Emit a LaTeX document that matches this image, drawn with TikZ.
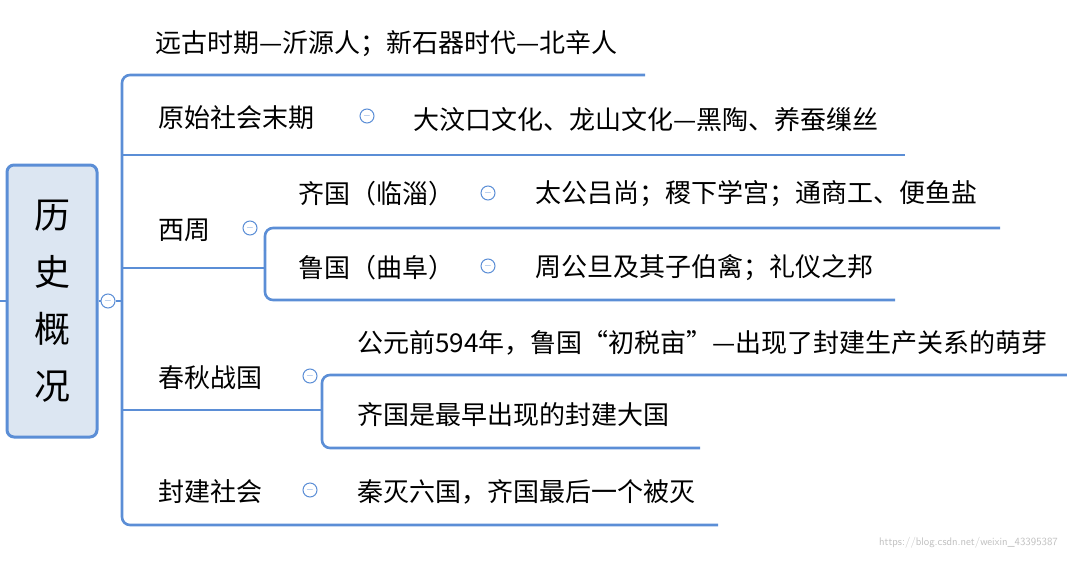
\documentclass[tikz,border=0pt]{standalone}
\usepackage{fontspec}
\newfontfamily\cjk{Noto Sans CJK SC}
\usetikzlibrary{positioning}
\definecolor{mapblue}{HTML}{5B8ED6}
\definecolor{rootfill}{HTML}{DCE6F2}
\begin{document}
\begin{tikzpicture}[x=1pt,y=-1pt]
			\tikzstyle{Topic}	= [anchor=west, inner sep=0pt, font=\cjk\fontsize{26}{30}\selectfont]
			\tikzstyle{Root}	= [draw=mapblue, line width=3pt, fill=rootfill, rounded corners=7pt, minimum width=90pt, minimum height=272pt, align=center, font=\cjk\fontsize{36}{57}\selectfont]
			\tikzstyle{Fold}	= [circle, draw=mapblue, line width=1pt, fill=white, minimum size=14pt, inner sep=0pt, font=\cjk\fontsize{10}{10}\selectfont, text=mapblue]
			\tikzstyle{Branch}	= [mapblue, line width=2.6pt, rounded corners=8pt]
			
			\useasboundingbox (0,0) rectangle (1067,562);
			\node (root) at (52,301) [Root] {历\\史\\概\\况};
			\node (f0) at (108,301) [Fold] {$-$};
			
			% first level
			\node (t1) at (155,44) [Topic] {远古时期—沂源人；新石器时代—北辛人};
			\node (t2) at (158,118) [Topic] {原始社会末期};
			\node (t3) at (158,230) [Topic] {西周};
			\node (t4) at (158,378) [Topic] {春秋战国};
			\node (t5) at (158,492) [Topic] {封建社会};
			\node (f2) at (367,116) [Fold] {$-$};
			\node (f3) at (250,228) [Fold] {$-$};
			\node (f4) at (310,376) [Fold] {$-$};
			\node (f5) at (310,490) [Fold] {$-$};
			
			% second level
			\node (c2) at (413,120) [Topic] {大汶口文化、龙山文化—黑陶、养蚕缫丝};
			\node (q1) at (298,194) [Topic] {齐国（临淄）};
			\node (q2) at (298,268) [Topic] {鲁国（曲阜）};
			\node (f6) at (488,193) [Fold] {$-$};
			\node (f7) at (488,266) [Fold] {$-$};
			\node (c3) at (535,194) [Topic] {太公吕尚；稷下学宫；通商工、便鱼盐};
			\node (c4) at (535,268) [Topic] {周公旦及其子伯禽；礼仪之邦};
			\node (c5) at (357,343) [Topic] {公元前594年，鲁国“初税亩”—出现了封建生产关系的萌芽};
			\node (c6) at (357,415) [Topic] {齐国是最早出现的封建大国};
			\node (c7) at (357,492) [Topic] {秦灭六国，齐国最后一个被灭};
			
			\node (wm) at (1058,543) [anchor=east, inner sep=0pt, text=black!25, font=\sffamily\fontsize{11}{11}\selectfont] {https://blog.csdn.net/weixin\_43395387};
			
			\draw [mapblue, line width=2.6pt] (0,301) -- (root.west);
			\draw [mapblue, line width=2.6pt] (root.east) -- (f0.west);
			\draw [Branch] (f0.east) -- (122,301);
			\draw [Branch] (645,75) -- (122,75) -- (122,525) -- (718,525);
			\draw [Branch] (122,155) -- (905,155);
			\draw [Branch] (122,268) -- (265,268);
			\draw [Branch] (265,250) -- (265,228) -- (1000,228);
			\draw [Branch] (265,250) -- (265,300) -- (895,300);
			\draw [Branch] (122,410) -- (322,410);
			\draw [Branch] (322,400) -- (322,375) -- (1067,375);
			\draw [Branch] (322,400) -- (322,448) -- (700,448);
		\end{tikzpicture}
\end{document}
